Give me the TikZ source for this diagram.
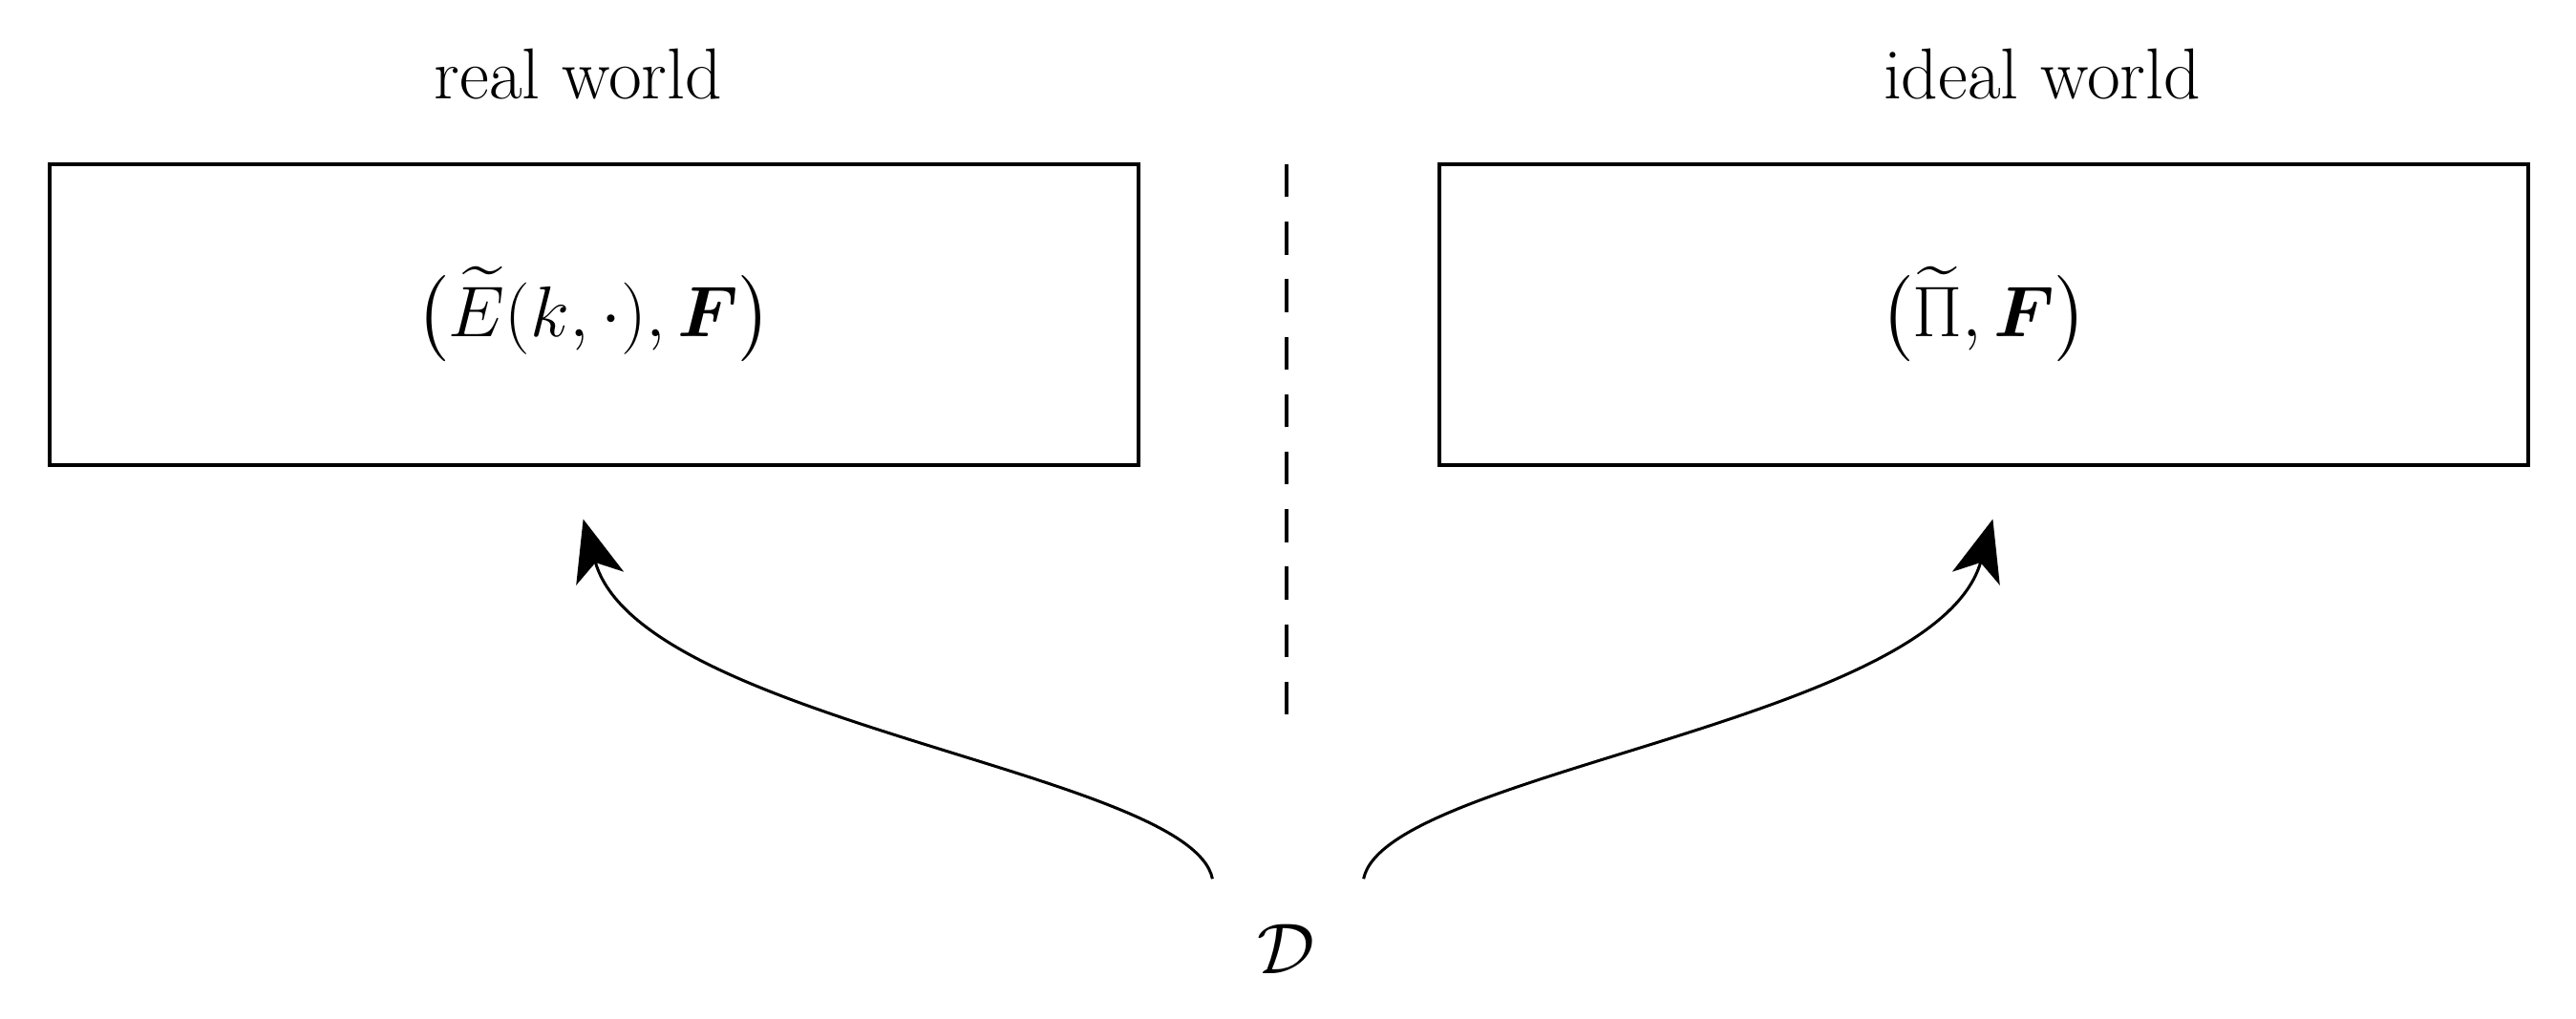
\documentclass[tikz,border=0pt]{standalone}
\usepackage{amsmath,bm}
\usetikzlibrary{arrows.meta}
\begin{document}
\begin{tikzpicture}[x=0.02cm,y=-0.02cm,
  box/.style={draw,line width=1.2pt,minimum width=13.26cm,minimum height=3.66cm,inner sep=0pt},
  big/.style={font=\fontsize{25}{30}\selectfont},
  arr/.style={line width=1pt,-{Stealth[length=0.75cm,width=0.6cm,inset=0.2cm]}}]
\useasboundingbox (0,0) rectangle (1568,620);
\node[big] (rt) at (352,45) {real world};
\node[big] (it) at (1243,45) {ideal world};
\node[box,big] (rb) at (361.5,191.5) {$\bigl(\widetilde{E}(k,\cdot),\bm{F}\bigr)$};
\node[box,big] (ib) at (1207.5,191.5) {$\bigl(\widetilde{\Pi},\bm{F}\bigr)$};
\coordinate (dt) at (783,100);
\coordinate (db) at (783,442);
\draw[line width=1.2pt,dash pattern=on 0.4cm off 0.3cm] (dt) -- (db);
\node[big] (D) at (783,578) {$\mathcal{D}$};
\coordinate (ls) at (738,535);
\coordinate (rs) at (830,535);
\coordinate (lt) at (355,316);
\coordinate (rt2) at (1213,316);
\draw[arr] (ls) .. controls (725,470) and (390,440) .. (lt);
\draw[arr] (rs) .. controls (843,470) and (1178,440) .. (rt2);
\end{tikzpicture}
\end{document}
